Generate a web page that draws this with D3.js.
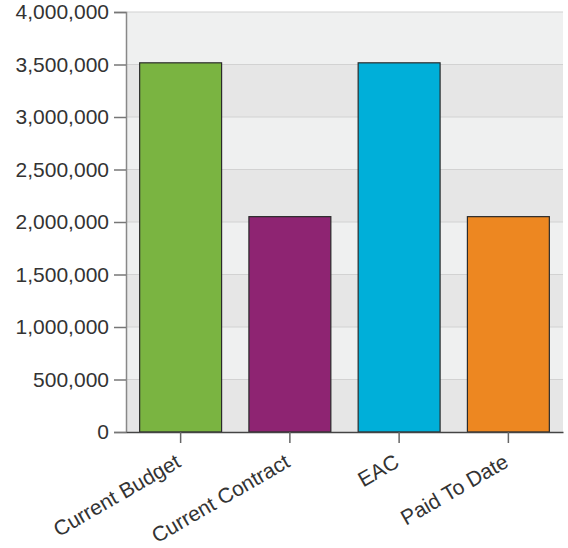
<!DOCTYPE html>
<html><head><meta charset="utf-8">
<script src="https://cdn.jsdelivr.net/npm/d3@7"></script>
<style>
body{margin:0;background:#fff;}
text{font-family:"Liberation Sans",Arial,sans-serif;fill:#333;}
</style></head>
<body><svg id="c" width="568" height="548"></svg>
<script>
const categories = ["Current Budget","Current Contract","EAC","Paid To Date"];
const values = [3516000, 2051000, 3516000, 2051000];
const colors = ["#7ab441","#8e2472","#00afd9","#ed8721"];
const yTicks = [0,500000,1000000,1500000,2000000,2500000,3000000,3500000,4000000];

const svg = d3.select("#c");
const m = {l:126, r:5, t:12, b:116};
const W = 568, H = 548;
const x = d3.scaleBand().domain(categories).range([m.l, W-m.r]).paddingInner(0.25).paddingOuter(0.125);
const y = d3.scaleLinear().domain([0,4000000]).range([H-m.b, m.t]);

// background bands
const bands = d3.range(yTicks.length-1).map(i=>[yTicks[i], yTicks[i+1], i]);
svg.append("g").selectAll("rect").data(bands).join("rect")
  .attr("x", m.l).attr("width", W-m.r-m.l)
  .attr("y", d=>y(d[1])).attr("height", d=>y(d[0])-y(d[1]))
  .attr("fill", d=> d[2]%2===0 ? "#e6e6e6" : "#eff0f0");
// grid
svg.append("g").selectAll("line").data(yTicks.slice(1)).join("line")
  .attr("x1", m.l).attr("x2", W-m.r).attr("y1", d=>y(d)).attr("y2", d=>y(d))
  .attr("stroke", "#d2d2d2").attr("stroke-width", 1.2);

// bars
svg.append("g").selectAll("rect").data(categories).join("rect")
  .attr("x", d=>x(d)).attr("width", x.bandwidth())
  .attr("y", (d,i)=>y(values[i])).attr("height", (d,i)=>y(0)-y(values[i]))
  .attr("fill", (d,i)=>colors[i]).attr("stroke", "#2b2b2b").attr("stroke-width", 1.2);

// y axis
const ya = svg.append("g").attr("transform", `translate(${m.l},0)`)
  .call(d3.axisLeft(y).tickValues(yTicks).tickFormat(d3.format(",")).tickSize(12).tickPadding(5));
ya.select(".domain").attr("stroke", "#888").attr("stroke-width", 1.5);
ya.selectAll(".tick line").attr("stroke", "#777").attr("stroke-width", 1.5);
ya.selectAll("text").attr("font-size", 21).attr("fill", "#333").attr("font-family", "Liberation Sans, Arial, sans-serif");

// x axis
const xa = svg.append("g").attr("transform", `translate(0,${y(0)})`)
  .call(d3.axisBottom(x).tickSize(11).tickSizeOuter(0).tickPadding(6));
xa.select(".domain").attr("stroke", "#444").attr("stroke-width", 1.5);
xa.selectAll(".tick line").attr("stroke", "#666").attr("stroke-width", 1.5);
xa.selectAll("text").attr("font-size", 21).attr("fill", "#333")
  .attr("font-family", "Liberation Sans, Arial, sans-serif")
  .attr("text-anchor", "end").attr("dy", null)
  .attr("transform", "translate(-6,21) rotate(-30)").attr("y", 0).attr("x", 0).attr("dy", "0.71em");
</script></body></html>
